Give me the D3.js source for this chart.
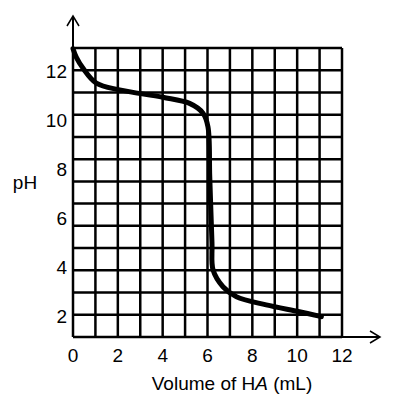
<!DOCTYPE html>
<html>
<head>
<script src="https://cdn.jsdelivr.net/npm/d3@7"></script>
<style>body{margin:0;background:#fff}text{font-family:"Liberation Sans",Arial,sans-serif;font-size:19px}</style>
</head>
<body>
<script>
// titration curve
var volume = [0, 0.15, 0.45, 1.04, 2.08, 4.01, 5.2, 5.8, 6.02, 6.1, 6.2, 6.25, 6.69, 7.29, 8.62, 10.1, 11.08];
var pH = [12.9, 12.55, 12.1, 11.5, 11.22, 10.92, 10.67, 10.27, 9.72, 7.68, 4.97, 3.87, 3.19, 2.78, 2.45, 2.17, 1.97];
var xTicks = [0, 2, 4, 6, 8, 10, 12];
var yTicks = [2, 4, 6, 8, 10, 12];

var svg = d3.select('body').append('svg').attr('width', 400).attr('height', 410);
var x = d3.scaleLinear().domain([0, 12]).range([73, 342]);
var y = d3.scaleLinear().domain([1.14, 12.93]).range([337, 48]);
var gy = d3.scaleLinear().domain([0, 13]).range([337, 48]);

svg.selectAll('.vg').data(d3.range(0, 13)).enter().append('line')
  .attr('x1', d => x(d)).attr('x2', d => x(d)).attr('y1', 48).attr('y2', 337)
  .attr('stroke', '#000').attr('stroke-width', 2.5);
svg.selectAll('.hg').data(d3.range(0, 14)).enter().append('line')
  .attr('y1', d => gy(d)).attr('y2', d => gy(d)).attr('x1', 73).attr('x2', 342)
  .attr('stroke', '#000').attr('stroke-width', 2.5);

// axes with arrows
svg.append('line').attr('x1', 73).attr('x2', 73).attr('y1', 337).attr('y2', 16).attr('stroke', '#000').attr('stroke-width', 2);
svg.append('path').attr('d', 'M67,26 L73,16 L79,26').attr('fill', 'none').attr('stroke', '#000').attr('stroke-width', 1.5);
svg.append('line').attr('x1', 73).attr('x2', 380).attr('y1', 337).attr('y2', 337).attr('stroke', '#000').attr('stroke-width', 2);
svg.append('path').attr('d', 'M370,331 L380,337 L370,343').attr('fill', 'none').attr('stroke', '#000').attr('stroke-width', 1.5);

var pts = volume.map((v, i) => [v, pH[i]]);
svg.append('path').datum(pts)
  .attr('d', d3.line().x(d => x(d[0])).y(d => y(d[1])).curve(d3.curveCatmullRom))
  .attr('fill', 'none').attr('stroke', '#000').attr('stroke-width', 5).attr('stroke-linecap', 'round');

svg.selectAll('.xt').data(xTicks).enter().append('text')
  .attr('x', d => x(d)).attr('y', 362).attr('text-anchor', 'middle').text(d => d);
svg.selectAll('.yt').data(yTicks).enter().append('text')
  .attr('x', 67).attr('y', d => y(d) + 7).attr('text-anchor', 'end').text(d => d);

svg.append('text').attr('x', 25).attr('y', 189).attr('text-anchor', 'middle').text('pH');
var t = svg.append('text').attr('x', 232).attr('y', 390).attr('text-anchor', 'middle');
t.append('tspan').text('Volume of H');
t.append('tspan').attr('font-style', 'italic').text('A');
t.append('tspan').text(' (mL)');
</script>
</body>
</html>
